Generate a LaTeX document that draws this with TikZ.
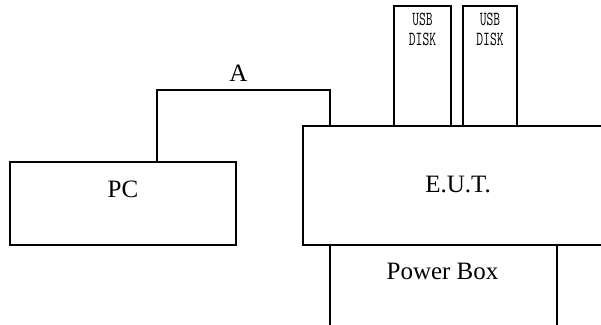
\documentclass[tikz,border=0pt]{standalone}
\usepackage{fontspec}
\setmainfont{Liberation Serif}
\usetikzlibrary{calc, positioning}

\newcommand{\narrowtxt}[1]{\scalebox{0.66}[1]{#1}}

\tikzset{
    unit/.style={draw, line width=1.1pt, inner sep=0pt, outer sep=0pt, anchor=north west},
    lbl/.style={font=\fontsize{25}{30}\selectfont, inner sep=0pt},
    usblbl/.style={font=\fontsize{20}{20}\selectfont\ttfamily, inner sep=0pt, align=center, anchor=north},
    cable/.style={line width=1.1pt}
}

\begin{document}
\begin{tikzpicture}[x=1pt, y=-1pt]
    \clip (0,0) rectangle (601,324);

    % --- 1. 定義 PC 與 E.U.T. 方框 ---
    \node[unit, minimum width=226pt, minimum height=83pt] (pc) at (10,162) {};
    \node[unit, minimum width=310pt, minimum height=119pt] (eut) at (303,126) {};

    % --- 2. Power Box (下方超出畫面) ---
    \node[unit, minimum width=227pt, minimum height=100pt] (pwr) at (330,245) {};

    % --- 3. 兩個 USB DISK ---
    \node[unit, minimum width=57pt, minimum height=120pt] (usb1) at (394,6) {};
    \node[unit, minimum width=54pt, minimum height=120pt] (usb2) at (463,6) {};

    % --- 4. 標籤 ---
    \node[lbl] (pc_t) at ([yshift=-27pt]pc.north) {PC};
    \node[lbl] (eut_t) at ([yshift=-58pt]eut.north) {E.U.T.};
    \node[lbl] (pwr_t) at ([xshift=-1pt, yshift=-26.5pt]pwr.north) {Power Box};
    \node[usblbl] (usb1_t) at ([yshift=-6.5pt]usb1.north) {\narrowtxt{USB}\\\narrowtxt{DISK}};
    \node[usblbl] (usb2_t) at ([yshift=-6.5pt]usb2.north) {\narrowtxt{USB}\\\narrowtxt{DISK}};

    % --- 5. 連接線 A ---
    \coordinate (a_1) at (157,90);
    \coordinate (a_2) at (330,90);
    \draw[cable] (a_1 |- pc.north) -- (a_1) -- (a_2) -- (a_2 |- eut.north);
    \coordinate (a_m) at ($(a_1)!0.47!(a_2)$);
    \node[lbl, above=8.5pt of a_m, anchor=south] (a_t) {A};

\end{tikzpicture}
\end{document}
